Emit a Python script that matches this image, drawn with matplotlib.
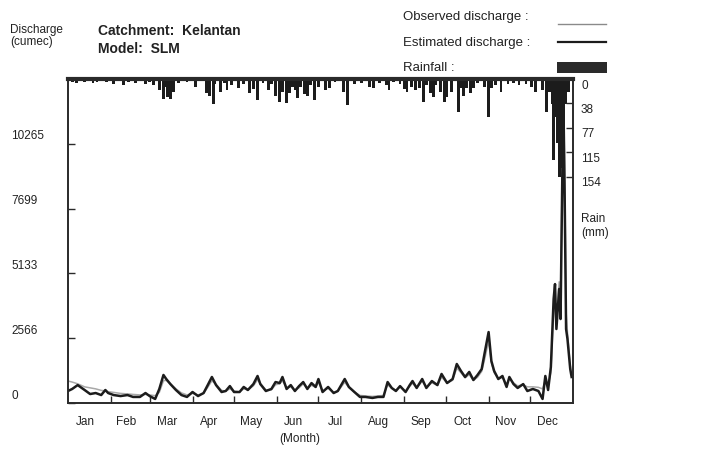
import matplotlib
matplotlib.use("Agg")
import matplotlib.pyplot as plt
import matplotlib.transforms as mtransforms
from matplotlib.lines import Line2D
from matplotlib.patches import Rectangle

plt.rcParams['font.family'] = ['Liberation Sans', 'DejaVu Sans']

# ---------------- data ----------------
days = [0, 3, 7, 12, 16, 20, 24, 27, 29, 33, 38, 43, 47, 52, 56, 59, 63, 66, 69, 71,
        74, 78, 82, 86, 90, 94, 98, 101, 104, 107, 111, 114, 117, 120, 124, 127, 130, 134, 137, 139,
        143, 147, 150, 153, 155, 158, 161, 164, 167, 170, 173, 176, 179, 181, 184, 188, 192, 195, 200, 203,
        207, 211, 215, 220, 224, 228, 231, 234, 237, 240, 244, 247, 249, 252, 256, 259, 263, 267, 270, 274,
        278, 281, 284, 287, 290, 293, 296, 299, 301, 304, 306, 308, 311, 314, 317, 319, 322, 325, 329, 332,
        336, 340, 343, 345, 347, 349, 351, 352, 353, 355, 356, 358, 359, 360, 361, 363, 364]

estimated = [475, 555, 710, 515, 355, 395, 315, 515, 395, 315, 275, 315, 240, 240, 395, 275, 160, 555, 1110, 950,
             750, 515, 315, 240, 435, 275, 395, 710, 1030, 710, 435, 475, 670, 435, 435, 635, 515, 750, 1070, 750,
             475, 555, 830, 790, 1030, 555, 710, 475, 670, 830, 555, 790, 635, 950, 435, 635, 395, 475, 950, 635,
             435, 240, 240, 200, 240, 240, 830, 595, 475, 670, 435, 710, 870, 595, 950, 595, 870, 710, 1150, 790,
             950, 1545, 1270, 1030, 1230, 910, 1110, 1345, 1940, 2810, 1665, 1270, 950, 1070, 635, 1030, 750, 595, 750, 475,
             555, 475, 160, 1070, 515, 1425, 4120, 4710, 2930, 4515, 3325, 12240, 8080, 2930, 2535, 1345, 1030]

observed = [870, 830, 760, 640, 600, 560, 500, 480, 450, 420, 380, 360, 340, 320, 340, 320, 290, 420, 880, 900,
            760, 560, 400, 320, 380, 320, 380, 620, 880, 740, 500, 470, 560, 470, 440, 560, 520, 680, 920, 780,
            520, 520, 720, 760, 880, 600, 640, 500, 600, 760, 580, 700, 620, 820, 480, 580, 420, 460, 820, 620,
            440, 300, 280, 260, 280, 300, 720, 580, 500, 640, 460, 660, 780, 600, 860, 620, 800, 700, 1020, 800,
            900, 1380, 1200, 1000, 1120, 900, 1020, 1250, 1700, 2450, 1600, 1200, 980, 1000, 760, 960, 800, 680, 720, 640,
            640, 620, 560, 900, 700, 1200, 3600, 4300, 3200, 4800, 4000, 12700, 9200, 3600, 2800, 1500, 1150]

rain_day = [3, 6, 9, 12, 15, 18, 21, 25, 28, 33, 36, 40, 44, 49, 53, 56, 59, 62, 66, 69,
            70, 72, 74, 76, 80, 86, 92, 96, 100, 102, 105, 106, 110, 113, 115, 118, 123, 127, 131, 134,
            137, 141, 145, 147, 150, 153, 155, 158, 160, 162, 164, 166, 168, 171, 173, 175, 178, 181, 186, 189,
            193, 199, 202, 207, 212, 218, 221, 225, 230, 232, 235, 240, 243, 245, 248, 251, 254, 257, 259, 262,
            264, 266, 269, 272, 274, 277, 282, 284, 286, 288, 291, 293, 296, 301, 304, 306, 309, 313, 318, 322,
            326, 331, 335, 338, 343, 346, 348, 350, 351, 353, 354, 355, 356, 358, 360, 362]
rain_mm = [4, 6, 3, 5, 2, 7, 4, 3, 5, 8, 3, 9, 4, 6, 3, 8, 5, 10, 18, 32,
           12, 28, 32, 20, 6, 4, 12, 3, 22, 26, 40, 8, 20, 6, 17, 10, 14, 8, 22, 16,
           33, 6, 18, 8, 26, 36, 20, 38, 22, 12, 18, 30, 12, 24, 26, 10, 33, 12, 18, 14,
           5, 20, 41, 8, 6, 12, 14, 6, 10, 18, 5, 8, 16, 20, 12, 18, 14, 36, 10, 22,
           28, 10, 20, 36, 28, 20, 52, 14, 26, 14, 22, 14, 6, 12, 60, 14, 10, 20, 8, 6,
           10, 8, 12, 20, 18, 52, 20, 40, 128, 60, 100, 155, 140, 150, 40, 20]

months = ['Jan', 'Feb', 'Mar', 'Apr', 'May', 'Jun', 'Jul', 'Aug', 'Sep', 'Oct', 'Nov', 'Dec']
month_len = [31, 28, 31, 30, 31, 30, 31, 31, 30, 31, 30, 31]
q_ticks = [0, 2566.4, 5132.8, 7699.2, 10265.6]
q_labels = ['0', '2566', '5133', '7699', '10265']
rain_ticks = [0, 38.4, 76.8, 115.2, 153.6]
rain_labels = ['0', '38', '77', '115', '154']
q_max = 12832
rain_max = 510

# ---------------- figure ----------------
W, H = 721, 452
fig = plt.figure(figsize=(W / 100, H / 100), dpi=100)
fig.patch.set_facecolor('white')
ax = fig.add_axes([68 / W, 1 - 404 / H, 505 / W, 324 / H])
ax.set_xlim(0, 365)
ax.set_ylim(0, q_max)

ax.plot(days, observed, color='#a8a8a8', lw=1.1, zorder=2)
ax.plot(days, estimated, color='#1c1c1c', lw=1.8, zorder=3)

ax2 = ax.twinx()
ax2.set_ylim(rain_max, 0)
ax2.bar(rain_day, rain_mm, width=2.0, color='#1c1c1c', linewidth=0, align='center')

for a in (ax, ax2):
    for s in a.spines.values():
        s.set_color('#2a2a2a')
        s.set_linewidth(1.2)
ax2.spines['top'].set_linewidth(3.0)

# month ticks
bounds = []
c = 0
for L in month_len[:-1]:
    c += L
    bounds.append(c)
centers = []
c = 0
for L in month_len:
    centers.append(c + L / 2 - 3)
    c += L
ax.set_xticks(bounds)
ax.set_xticklabels([])
ax.set_xticks(centers, minor=True)
ax.set_xticklabels(months, minor=True, fontsize=8.5, color='#222')
ax.tick_params(axis='x', which='major', direction='in', length=5, width=1, color='#2a2a2a')
ax.tick_params(axis='x', which='minor', length=0, pad=9)

ax.set_yticks(q_ticks)
ax.set_yticklabels([])
ax.tick_params(axis='y', direction='in', length=5, width=1, color='#2a2a2a')
ax2.set_yticks(rain_ticks)
ax2.set_yticklabels([])
ax2.tick_params(axis='y', direction='in', length=5, width=1, color='#2a2a2a')

# left labels (left aligned, slightly above ticks)
tl = mtransforms.blended_transform_factory(fig.transFigure, ax.transData)
tl = tl + mtransforms.ScaledTranslation(0, 6 / 72, fig.dpi_scale_trans)
for v, lab in zip(q_ticks, q_labels):
    fig.text(11 / W, v, lab, transform=tl, ha='left', va='center', fontsize=8.5, color='#222')

tr = mtransforms.blended_transform_factory(fig.transFigure, ax2.transData)
tr = tr + mtransforms.ScaledTranslation(0, -4 / 72, fig.dpi_scale_trans)
for v, lab in zip(rain_ticks, rain_labels):
    fig.text(581 / W, v, lab, transform=tr, ha='left', va='center', fontsize=8.5, color='#222')

fig.text(581 / W, 1 - 226 / H, 'Rain\n(mm)', ha='left', va='center', fontsize=8.5,
         color='#222', linespacing=1.15)
fig.text(300 / W, 1 - 439 / H, '(Month)', ha='center', va='center', fontsize=8.5, color='#222')

# header
fig.text(10 / W, 1 - 36 / H, 'Discharge\n(cumec)', ha='left', va='center', fontsize=8.5,
         color='#222', linespacing=1.0)
fig.text(98 / W, 1 - 31 / H, 'Catchment:  Kelantan', ha='left', va='center', fontsize=10,
         fontweight='bold', color='#222')
fig.text(98 / W, 1 - 49 / H, 'Model:  SLM', ha='left', va='center', fontsize=10,
         fontweight='bold', color='#222')

# legend
leg_items = [('Observed discharge :', 17), ('Estimated discharge :', 43), ('Rainfall :', 68)]
for txt, yy in leg_items:
    fig.text(403 / W, 1 - yy / H, txt, ha='left', va='center', fontsize=9.5, color='#222')
fig.add_artist(Line2D([558 / W, 606 / W], [1 - 25 / H, 1 - 25 / H], color='#8a8a8a', lw=1.0))
fig.add_artist(Line2D([558 / W, 606 / W], [1 - 43 / H, 1 - 43 / H], color='#1c1c1c', lw=1.6))
fig.add_artist(Rectangle((557 / W, 1 - 74 / H), 50 / W, 11 / H, facecolor='#2a2a2a',
                         edgecolor='none', transform=fig.transFigure))

fig.savefig('out.png', dpi=100)
